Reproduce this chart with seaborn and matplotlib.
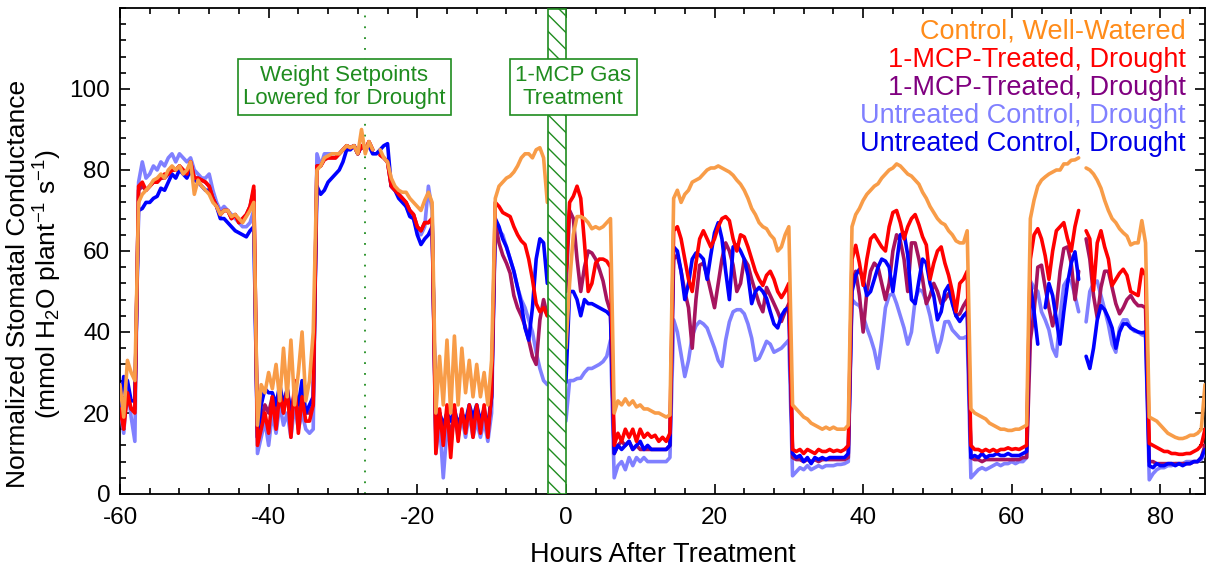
import numpy as np
import pandas as pd
import matplotlib
matplotlib.use("Agg")
import matplotlib.pyplot as plt
from matplotlib.ticker import MultipleLocator, FixedLocator
import seaborn as sns

nan = np.nan

# Sampling times: every half hour from -60 h to 86 h (293 points)
hours = np.arange(-60, 86.5, 0.5)

# Values, one row per light / dark period
control_ww = [
    27, 19, 33, 30, 28,
    72, 74, 75, 76, 77.5, 78, 79, 78, 80, 81, 80, 81, 79, 80, 82, 74, 77.5, 76, 75, 74, 72, 71, 69, 70, 70, 68.5, 69, 68, 67, 68.5, 70, 72,
    17, 27, 25, 30, 26, 32, 23, 36, 24, 38, 22, 30, 40, 23, 28, 40,
    80, 81, 83, 83.5, 84, 84, 84, 85, 86, 85.5, 86, 84, 90, 84, 87, 85, nan, 85, 83, 82, 78, 76, 75, 74.5, 74.5, 73, 72, 71, 70, 72.5, 74.5, 72,
    20, 34, 22, 38, 20, 39, 22, 36, 25, 33, 24, 32, 24, 30, 22, 33,
    73, 76, 77, 78, 78.5, 79.5, 81, 83, 84, 84, 83, 85, 85.5, 83, 72, nan, nan, nan, nan, 36, 52, 64, 68.5, 68.5, 68, 67, 65.5, 66, 65.5, 66, 67, 68,
    20, 23, 22, 23.5, 22, 23, 21.5, 22, 21, 21, 20.5, 20, 20, 19.5, 19, 19.5,
    73, 75, 72, 74, 75, 77, 77.5, 78, 79, 80, 80.5, 80.5, 81, 80.5, 80, 79.5, 78.7, 77.5, 76.5, 75, 73, 70.5, 69, 67, 66, 65.5, 64, 63, 60, 61, 64, 66,
    22, 21, 20, 19, 18.5, 17.5, 17, 16.5, 16, 16.5, 16, 16.5, 16, 16, 16, 17,
    66, 69, 70.5, 72.5, 74, 75, 76, 76.6, 78, 79, 80, 80.5, 81.5, 81, 80, 79, 78.5, 77.5, 76.5, 74.5, 73, 71, 69.5, 68, 67, 66.5, 65, 64, 62.5, 62, 62, 65,
    21, 20, 19.5, 19, 18.5, 17.5, 17, 16.5, 16, 16, 15.7, 15.7, 16, 16, 16.5, 17,
    68, 72.6, 76, 77.5, 78.3, 79, 79.5, 80, 80, 81.5, 81.5, 82.4, 82.5, 83, nan, 80.5, 80, 79, 77.5, 75.5, 72.5, 70, 68, 67, 65.5, 64.5, 63.7, 61.5, 62, 62, 67.5, 62,
    19, 18.5, 18, 17, 16, 15, 14.5, 14, 13.7, 13.7, 14, 14.5, 14.5, 15, 16, 27,
]

mcp_drought_a = [
    21, 16, 25, 21, 20,
    76, 77, 75, 76, 77, 77, 78, 79, 79, 80, 80, 81, 80, 79, 82, 78, 78, 77.5, 77, 76, 73, 71, 69, 70, 70, 68, 69, 67, 68, 69, 71, 76,
    12, 16, 20, 15, 24, 16, 25, 20, 26, 14, 28, 15, 24, 18, 18, 22,
    81, 81, 82.6, 83, 83, 83, 84, 85, 86, 85.5, 86, 84, 86, 85, 87, 85, nan, 83.7, 83, 82, 76, 75, 74, 73, 72, 70, 69, 66, 65, 67, 67, 68,
    10, 21, 12, 22, 9, 22, 13, 21, 15, 22, 14, 22, 15, 22, 14, 25,
    72, 71, 69.5, 69, 68.5, 66, 64, 62.5, 61.6, 58, 53, 47, 45, 46, 44, nan, nan, nan, nan, 55, 72, 73.5, 76, 73, 62, 50, 52, 57, 58, 58, 57.5, 56,
    12, 15, 13, 16, 14, 16, 13, 16, 14, 15, 14, 14.5, 13, 14, 13, 15,
    65, 66, 63, 58, 53, 50, 57, 63, 65, 63, 61, 63, 66, 68, 68.5, 67.5, 63, 60, 64, 63.5, 61, 58, 55, 53, 51.5, 54, 55, 53, 50, 48.5, 50, 52,
    11, 10.5, 11, 10, 11, 10.5, 10, 11, 10.5, 10.5, 11, 10.5, 10.8, 10.5, 11, 12,
    58, 61.4, 57, 51.5, 58, 63, 64, 62.5, 61, 60, 66, 69.5, 70, 67, 63, 66, 68, 69, 66.5, 63.5, 61.5, 53, 57, 60, 61, 57, 54, 50, 45, 52, 53, 55,
    12, 11, 11, 10.5, 11, 10.5, 11, 10.5, 11, 11, 11.4, 11, 11.2, 11, 11.5, 12,
    58, 64, 65.5, 63, 58.8, 53, 60, 65, 66, 67, 63, 60, 66, 70, nan, 65, 63, 50.3, 62, 65, 61, 58, 51.5, 53, 54.5, 55.5, 54, 50, 49.5, 49, 55.5, 54,
    12.5, 12, 11.5, 11, 10.5, 10.5, 10, 10, 9.8, 9.8, 10, 10, 10.5, 11, 12, 16,
]

mcp_drought_b = [
    21, 18, 24, 21, 21,
    75, 76, 75, 76, 77, 77, 78, 78, 79, 80, 80, 81, 80, 79, 82, 78, 78, 77.5, 77, 76, 73, 71, 69, 70, 70, 68, 69, 67, 68, 69, 71, 75,
    14, 18, 22, 20, 24, 19, 25, 20, 26, 18, 26, 18, 24, 20, 20, 22,
    81, 81, 82.6, 83, 83, 83, 84, 85, 86, 85.5, 86, 84, 86, 85, 87, 85, nan, 83.7, 83, 82, 76, 75, 74, 73, 72, 70, 69, 66, 65, 67, 67, 68,
    14, 20, 16, 20, 14, 20, 16, 20, 17, 21, 17, 21, 18, 20, 17, 24,
    67, 62, 59, 57, 54.5, 49, 46, 44, 41.5, 38, 34, 32, 43, 48, 44, nan, nan, nan, nan, 50, 70, 68, 58, 50, 56, 60, 59.5, 58, 55.5, 52.6, 48, 45,
    10, 12, 13, 12, 13, 11, 12, 11, 11, 11, 11, 11, 11, 11, 11, 12,
    58, 59, 55, 50, 46, 36, 48, 56.5, 57, 54, 50, 46, 52, 58, 62, 60, 56.5, 50, 52, 58, 56.5, 53, 50, 47, 45, 51, 49, 47, 45, 42.6, 45, 47,
    9, 8.5, 8.5, 8, 8.5, 8, 8.5, 8, 8.5, 8.5, 8.5, 8.5, 8.5, 8.5, 8.5, 9,
    52, 55, 49, 40, 50, 55, 57, 56, 52, 48, 52, 60, 64, 62.5, 58, 50, 62, 62, 58, 53, 47, 49, 52, 50, 47, 48, 49.5, 47.5, 44, 44.5, 46.5, 48,
    9, 8.5, 8.5, 8, 8.5, 8.5, 8.5, 8.5, 8.5, 8.5, 8.5, 8.5, 8.5, 8.5, 9, 9,
    38, 45, 56, 56.5, 51, 46, 41.5, 46, 55, 60.6, 61, 57, 48, 55, nan, 63, 58, 49, 43.5, 51, 55, 55, 51, 47, 44.5, 46, 48, 49, 47.5, 46.5, 46.5, 46,
    8, 8, 7.5, 7.5, 7.5, 7.5, 7.5, 7.5, 7.5, 7.5, 7.5, 7.5, 8, 8, 9, 12,
]

untreated_a = [
    21, 15, 27, 19, 13,
    77, 82, 78, 79, 81, 80, 82, 81, 83, 84, 82, 84, 83, 82, 83, 80, 79, 78, 78, 79, 75, 72, 70, 71, 70, 69, 68, 67, 66, 66, 67, 70,
    10, 14, 18, 12, 20, 15, 22, 17, 20, 14, 22, 16, 20, 16, 15, 16,
    84, 81, 84, 84, 84, 84, 84, 85, 86, 85.5, 86, 84, 86, 85, 86, 85, nan, 84, 83, 82, 76, 75, 74, 73, 71, 69, 68, 65, 64, 66, 76, 70,
    10, 18, 4, 16, 12, 20, 14, 19, 14, 20, 14, 18, 14, 18, 13, 20,
    66, 65, 64, 61, 58, 55, 51, 48, 46, 43, 40, 35, 31, 28, 27, nan, nan, nan, nan, 18, 28, 28, 28.5, 28.6, 30, 31, 31, 31.5, 32, 32.7, 34, 38,
    4, 7, 8, 6, 9, 7, 9, 8, 9, 8, 8, 8, 8, 8, 8, 9,
    43, 40, 34.5, 29, 33, 39, 41.5, 42.6, 42, 41, 38.5, 36, 33, 31.5, 38, 42.5, 45, 45.5, 45.5, 44.5, 42, 38.5, 33, 33.5, 35.5, 37.7, 37, 35, 35.5, 36, 37, 38,
    4.5, 5.5, 6.5, 6, 7, 6, 6.5, 7, 6.5, 7, 7, 7, 7.3, 7.3, 7.5, 8,
    48, 47, 46.5, 44, 41, 38.5, 35.5, 31, 38, 46, 49, 49.5, 47, 44, 41, 37, 40, 48, 50.5, 50, 47.5, 44, 39.3, 35, 38, 42.5, 42.6, 40.5, 39.5, 38.5, 38.5, 39,
    4, 5, 6, 6.5, 6, 6.5, 7, 7.5, 7, 7.5, 7.5, 8, 7.5, 8, 8, 9,
    52.6, 51, 50, 45, 43, 40.5, 36, 34, 44, 51.5, 53, 52.5, 49, 45, nan, 42.5, 50, 52, 52.6, 49, 45.5, 41.8, 37, 35, 41, 43, 43, 41, 40.2, 40, 39.3, 39,
    3.5, 5, 6, 6.5, 6.5, 7, 7, 7.5, 7.5, 7.5, 8, 8, 8, 8, 8.5, 10,
]

untreated_b = [
    21, 29, 28, 23, 23,
    70, 70.5, 72, 72, 73, 73.5, 75.5, 75, 77, 79, 78, 80, 79, 78, 80, 77.5, 77, 76, 75, 75, 73, 71, 68, 68, 67, 66, 65, 64.5, 64, 63.5, 65, 66,
    14, 22, 26, 25, 25, 22, 27, 22, 26, 20, 25, 22, 28, 20, 22, 24,
    76, 74, 75, 77, 78, 79, 80, 82, 85, 85, 86, 84, 86, 85, 86, 84, 84, 85, 86, 86.5, 76, 75, 73, 72, 71, 68.5, 68, 64, 61.6, 63, 64, 66,
    15, 20, 17, 20, 18, 21, 17, 20, 18, 22, 19, 22, 18, 21, 16, 24,
    68, 66, 63, 61, 58, 55, 51, 47, 41, 38, 46, 58, 63, 62, 52, nan, nan, nan, nan, 27.5, 50, 50, 48, 44, 48, 47, 47, 46.5, 46, 45.5, 45, 44,
    10, 12, 11, 12, 13, 11, 12, 13, 11, 12, 11, 11, 11, 11, 11, 12,
    61, 60, 55, 48, 52, 58, 59.5, 59, 58, 53, 59, 64.5, 67, 63, 55, 48, 61, 61.5, 60, 58, 54, 47, 50, 51, 50, 48.3, 45, 42, 41, 44, 45.5, 46,
    10, 9, 9.5, 8, 9, 7.5, 9, 8.5, 9, 8.5, 9, 9, 9, 9, 9, 10,
    50, 54, 55.5, 53, 49, 50, 53, 56, 58, 57.5, 56, 50, 57, 64, 64.5, 59, 48, 47, 52.6, 58, 57, 52, 49, 43, 45, 50, 51.5, 47, 44, 42.6, 44, 45,
    9, 9.5, 9, 10, 9, 9.5, 9.5, 10, 9.5, 9.5, 10, 9.5, 9.5, 9.5, 10, 10.5,
    52, 45, 37, nan, 46, 52, 49, 43, 37, 45, 52, 57, 59.8, 53, nan, 34, 31, 36, 43, 46.5, 45.5, 43.5, 41, 36, 40, 42, 42, 41, 40.5, 40, 39.8, 40,
    7, 6.5, 7.5, 7, 7, 7.5, 7.5, 7, 7.5, 7, 7.5, 7.5, 8, 8, 9, 11,
]

series_labels = [
    "Control, Well-Watered",
    "1-MCP-Treated, Drought",
    "1-MCP-Treated, Drought",
    "Untreated Control, Drought",
    "Untreated Control, Drought",
]
series_values = [control_ww, mcp_drought_a, mcp_drought_b, untreated_a, untreated_b]
line_colors = ["#f89c48", "#ff0000", "#a6145e", "#8080ff", "#0000ff"]
label_colors = ["#ff8c1a", "#ff0000", "#800080", "#8080ff", "#0000e6"]
draw_order = [3, 2, 4, 1, 0]

treatment_span = (-2.4, 0)
setpoint_hour = -27
green = "#1f8c1f"

for vals in series_values:
    assert len(vals) == len(hours)

sns.set_theme(style="ticks")
plt.rcParams["font.family"] = ["Liberation Sans", "DejaVu Sans"]
plt.rcParams["mathtext.default"] = "regular"
plt.rcParams["axes.unicode_minus"] = False
plt.rcParams["hatch.linewidth"] = 1.0

fig = plt.figure(figsize=(12.07, 5.69), dpi=100)
ax = fig.add_axes([120 / 1207, 75 / 569, 1085 / 1207, 486 / 569])

# dotted marker for the drought setpoint change
ax.axvline(setpoint_hour, color=green, linestyle=(0, (1, 5)), linewidth=1.3, zorder=1)

for k, i in enumerate(draw_order):
    df = pd.DataFrame({"hours": hours, "value": np.array(series_values[i], dtype=float)})
    df["segment"] = df["value"].isna().cumsum()
    df = df.dropna()
    sns.lineplot(data=df, x="hours", y="value", units="segment", estimator=None,
                 color=line_colors[i], linewidth=2.6, ax=ax, legend=False, zorder=3 + k)

# hatched band for the 1-MCP gas treatment
ax.axvspan(*treatment_span, ymax=0.997, facecolor="white", edgecolor=green,
           hatch="\\\\", linewidth=1.2, zorder=9)

box = dict(boxstyle="square,pad=0.25", facecolor="white", edgecolor=green, linewidth=1.2)
ax.text(-29.8, 100.5, "Weight Setpoints\nLowered for Drought", ha="center", va="center",
        fontsize=16, color=green, bbox=box, zorder=10, linespacing=1.15)
ax.text(1.0, 100.5, "1-MCP Gas\nTreatment", ha="center", va="center",
        fontsize=16, color=green, bbox=box, zorder=10, linespacing=1.15)

# text-only legend, right aligned
for j, (lab, col) in enumerate(zip(series_labels, label_colors)):
    ax.text(0.982, 0.951 - j * 0.0578, lab, transform=ax.transAxes, ha="right", va="center",
            fontsize=19.5, color=col, zorder=11)

ax.set_xlim(-60, 86)
ax.set_ylim(0, 120)
ax.xaxis.set_major_locator(MultipleLocator(20))
ax.xaxis.set_minor_locator(MultipleLocator(4))
ax.yaxis.set_major_locator(FixedLocator(range(0, 101, 20)))
ax.yaxis.set_minor_locator(MultipleLocator(4))
ax.tick_params(which="both", direction="in", top=True, right=True, colors="black",
               width=1.2, labelsize=17.5)
ax.tick_params(which="major", length=7, pad=7)
ax.tick_params(axis="x", which="major", pad=9)
ax.tick_params(which="minor", length=4)
for sp in ax.spines.values():
    sp.set_color("black")
    sp.set_linewidth(1.3)

ax.set_xlabel("Hours After Treatment", fontsize=19.5, labelpad=10, color="black")
ax.set_ylabel("Normalized Stomatal Conductance\n(mmol H$_2$O plant$^{-1}$ s$^{-1}$)",
              fontsize=19, linespacing=1.05, color="black")
ax.yaxis.set_label_coords(-0.052, 0.432)

fig.savefig("out.png", dpi=100)
